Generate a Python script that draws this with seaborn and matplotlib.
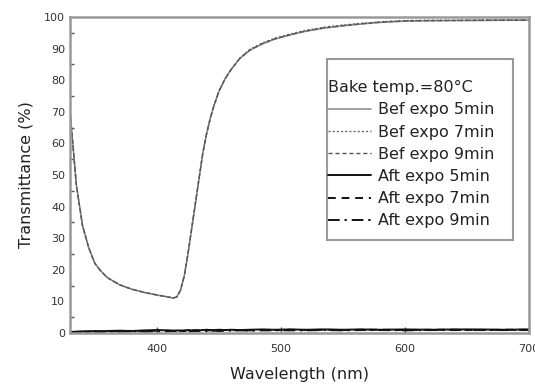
import matplotlib
matplotlib.use("Agg")
import matplotlib.pyplot as plt
from matplotlib.patches import Rectangle
import seaborn as sns
import pandas as pd
import numpy as np

sns.set_theme(style="white")
plt.rcParams['font.family'] = ['DejaVu Sans']

wl = [330, 335, 340, 345, 350, 355, 360, 370, 380, 390, 400, 410, 413, 416, 419, 422,
      425, 428, 431, 434, 437, 440, 443, 446, 450, 455, 460, 467, 475, 485, 495, 507,
      520, 535, 550, 565, 580, 600, 620, 640, 660, 680, 700]
bef5 = [70, 47, 34, 27, 22, 19.5, 17.5, 15.2, 13.8, 12.8, 12.0, 11.3, 11.0, 11.4, 13.5, 18,
        25, 33, 41, 49, 57, 63, 68, 72, 76.5, 80.5, 83.5, 87, 89.5, 91.5, 93, 94.3,
        95.5, 96.5, 97.2, 97.8, 98.3, 98.7, 98.8, 98.9, 98.9, 99.0, 99.0]
bef7 = [70, 47, 34, 27, 22, 19.5, 17.5, 15.2, 13.8, 12.8, 12.0, 11.3, 11.0, 11.4, 13.5, 18,
        25, 33, 41, 49, 57, 63, 68, 72, 76.5, 80.5, 83.5, 87, 89.8, 91.8, 93.3, 94.6,
        95.8, 96.8, 97.5, 98.0, 98.5, 98.9, 99.0, 99.0, 99.1, 99.1, 99.1]
bef9 = [70, 47, 34, 27, 22, 19.5, 17.5, 15.2, 13.8, 12.8, 12.0, 11.3, 11.0, 11.4, 13.5, 18,
        25, 33, 41, 49, 57, 63, 68, 72, 76.5, 80.5, 83.5, 87, 89.6, 91.6, 93.1, 94.4,
        95.6, 96.6, 97.3, 97.9, 98.4, 98.8, 98.9, 98.9, 99.0, 99.0, 99.0]
aft5 = [0.3, 0.4, 0.5, 0.5, 0.6, 0.5, 0.6, 0.7, 0.6, 0.8, 0.9, 0.8, 0.7, 0.8, 0.7, 0.8,
        0.9, 0.8, 0.9, 0.8, 0.9, 1.0, 0.9, 0.9, 1.0, 0.9, 1.0, 0.9, 1.0, 1.1, 1.0, 1.1,
        1.0, 1.1, 1.0, 1.1, 1.0, 1.1, 1.0, 1.1, 1.1, 1.0, 1.1]
aft7 = [0.2, 0.3, 0.3, 0.4, 0.4, 0.5, 0.4, 0.6, 0.5, 0.6, 0.7, 0.6, 0.7, 0.6, 0.7, 0.6,
        0.7, 0.8, 0.7, 0.8, 0.7, 0.8, 0.8, 0.7, 0.8, 0.9, 0.8, 0.9, 0.8, 0.9, 0.9, 1.0,
        0.9, 1.0, 0.9, 1.0, 1.0, 0.9, 1.0, 1.0, 0.9, 1.0, 1.0]
aft9 = [0.1, 0.2, 0.2, 0.3, 0.3, 0.3, 0.4, 0.4, 0.5, 0.4, 0.5, 0.5, 0.6, 0.5, 0.5, 0.6,
        0.6, 0.5, 0.6, 0.6, 0.7, 0.6, 0.7, 0.7, 0.6, 0.7, 0.7, 0.8, 0.7, 0.8, 0.8, 0.8,
        0.8, 0.9, 0.8, 0.9, 0.9, 0.8, 0.9, 0.9, 0.9, 0.9, 0.9]

labels = ["Bef expo 5min", "Bef expo 7min", "Bef expo 9min",
          "Aft expo 5min", "Aft expo 7min", "Aft expo 9min"]
series = [bef5, bef7, bef9, aft5, aft7, aft9]

df = pd.concat([pd.DataFrame({"wl": wl, "T": s, "cond": lab}) for s, lab in zip(series, labels)],
               ignore_index=True)

palette = {labels[0]: "#888888", labels[1]: "#666666", labels[2]: "#555555",
           labels[3]: "#111111", labels[4]: "#111111", labels[5]: "#111111"}
dashes = {labels[0]: "", labels[1]: (1.5, 1.5), labels[2]: (3, 2),
          labels[3]: "", labels[4]: (4, 3), labels[5]: (6, 2.5, 1.2, 2.5)}
widths = {labels[0]: 1.1, labels[1]: 1.0, labels[2]: 1.0,
          labels[3]: 1.4, labels[4]: 1.4, labels[5]: 1.4}

fig = plt.figure(figsize=(5.35, 3.88), dpi=100)
ax = fig.add_axes([0.131, 0.142, 0.858, 0.814])

for lab in labels:
    sub = df[df["cond"] == lab]
    sns.lineplot(data=sub, x="wl", y="T", ax=ax, color=palette[lab],
                 dashes=False, linewidth=widths[lab], label=lab, estimator=None)
    line = ax.get_lines()[-1]
    if dashes[lab]:
        line.set_dashes(dashes[lab])

ax.set_xlim(330, 700)
ax.set_ylim(0, 100)
ax.set_xticks([400, 500, 600, 700])
ax.set_yticks(np.arange(0, 101, 10))
ax.set_yticks(np.arange(5, 100, 10), minor=True)
ax.tick_params(axis="both", which="both", direction="in", colors="#555555",
               labelsize=8, labelcolor="#333333")
ax.tick_params(axis="y", which="major", length=5, width=1)
ax.tick_params(axis="y", which="minor", length=3, width=1, left=True)
ax.tick_params(axis="x", which="major", length=4, width=1, bottom=True, pad=8)
for sp in ax.spines.values():
    sp.set_color("#999999")
    sp.set_linewidth(1.8)

ax.set_xlabel("Wavelength (nm)", fontsize=11.5, color="#222222", labelpad=9)
ax.set_ylabel("Transmittance (%)", fontsize=11.5, color="#222222", labelpad=8)

# legend frame
ax.add_patch(Rectangle((0.56, 0.294), 0.405, 0.573, transform=ax.transAxes,
                       facecolor="white", edgecolor="#999999", linewidth=1.5, zorder=4))
leg = ax.legend(title="Bake temp.=80°C", loc="upper left",
                bbox_to_anchor=(0.562, 0.80), fontsize=11.5, title_fontsize=11.5,
                frameon=False, handlelength=2.7, handletextpad=0.45,
                labelspacing=0.45, borderpad=0, borderaxespad=0,
                alignment="left")
leg.set_zorder(5)
for t in leg.get_texts():
    t.set_color("#222222")
leg.get_title().set_color("#222222")

fig.savefig("out.png", dpi=100)
